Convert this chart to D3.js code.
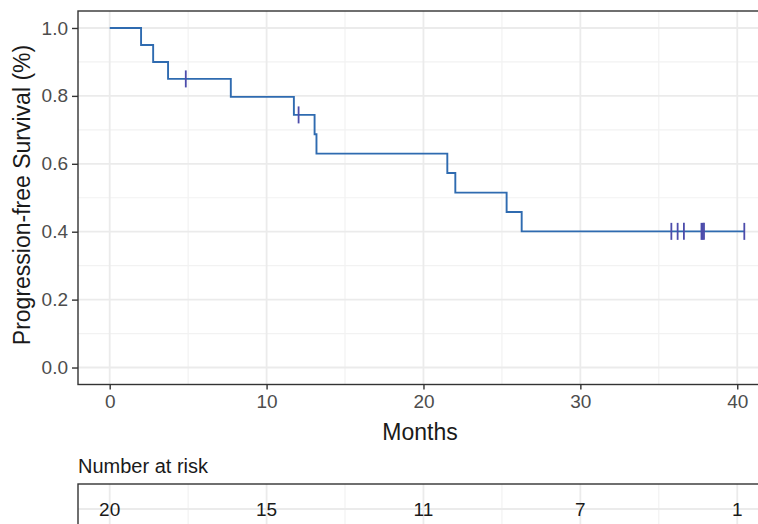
<!DOCTYPE html>
<html lang="en">
<head>
    <meta charset="UTF-8">
    <title>Progression-free Survival</title>
    <script src="https://d3js.org/d3.v7.min.js"></script>
    <style>
        body { margin: 0; background: #fff; }
        text { font-family: "Liberation Sans", Arial, sans-serif; }
    </style>
</head>
<body>
    <div id="km"></div>

    <script>
        // Kaplan-Meier steps
        const stepTimes  = [0, 2.0, 2.77, 3.72, 7.72, 11.74, 13.06, 13.18, 21.52, 22.03, 25.3, 26.26];
        const stepSurv   = [1.0, 0.95, 0.90, 0.85, 0.797, 0.744, 0.687, 0.630, 0.573, 0.515, 0.458, 0.401];
        const censorTimes = [4.85, 12.04, 35.8, 36.2, 36.6, 37.72, 37.8, 37.88, 40.45];
        const lastTime = 40.45;

        const riskTimes  = [0, 10, 20, 30, 40];
        const riskCounts = [20, 15, 11, 7, 1];

        const xTicks = [0, 10, 20, 30, 40];
        const yTicks = [0, 0.2, 0.4, 0.6, 0.8, 1.0];

        const width = 758, height = 524;
        const pLeft = 78, pRight = 776;
        const pTop = 11, pBottom = 384.5;

        const lineColor = "#2f6bb0", censorColor = "#4c4cab";

        const svg = d3.select("#km")
                      .append("svg")
                      .attr("width", width)
                      .attr("height", height);

        const x = d3.scaleLinear().domain([-2.02, 42.47]).range([pLeft, pRight]);
        const y = d3.scaleLinear().domain([-0.05, 1.05]).range([pBottom, pTop]);

        // grid for main panel
        const grid = svg.append("g");
        d3.range(5, 45, 10).forEach(t => {
            grid.append("line").attr("x1", x(t)).attr("x2", x(t)).attr("y1", pTop).attr("y2", pBottom)
                .attr("stroke", "#f2f2f2").attr("stroke-width", 1.2);
        });
        d3.range(0.1, 1.0, 0.2).forEach(v => {
            grid.append("line").attr("x1", pLeft).attr("x2", pRight).attr("y1", y(v)).attr("y2", y(v))
                .attr("stroke", "#f2f2f2").attr("stroke-width", 1.2);
        });
        xTicks.forEach(t => {
            grid.append("line").attr("x1", x(t)).attr("x2", x(t)).attr("y1", pTop).attr("y2", pBottom)
                .attr("stroke", "#ebebeb").attr("stroke-width", 1.8);
        });
        yTicks.forEach(v => {
            grid.append("line").attr("x1", pLeft).attr("x2", pRight).attr("y1", y(v)).attr("y2", y(v))
                .attr("stroke", "#ebebeb").attr("stroke-width", 1.8);
        });

        // survival curve
        const pts = stepTimes.map((t, i) => [t, stepSurv[i]]);
        pts.push([lastTime, stepSurv[stepSurv.length - 1]]);
        const line = d3.line().x(d => x(d[0])).y(d => y(d[1])).curve(d3.curveStepAfter);
        svg.append("path").datum(pts)
           .attr("d", line)
           .attr("fill", "none")
           .attr("stroke", lineColor)
           .attr("stroke-width", 1.9);

        function survAt(t) {
            let s = 1;
            stepTimes.forEach((st, i) => { if (st <= t) s = stepSurv[i]; });
            return s;
        }
        censorTimes.forEach(t => {
            svg.append("line")
               .attr("x1", x(t)).attr("x2", x(t))
               .attr("y1", y(survAt(t)) - 8.5).attr("y2", y(survAt(t)) + 8.5)
               .attr("stroke", censorColor).attr("stroke-width", 1.8);
        });

        // panel border
        svg.append("rect").attr("x", pLeft).attr("y", pTop)
           .attr("width", pRight - pLeft).attr("height", pBottom - pTop)
           .attr("fill", "none").attr("stroke", "#333").attr("stroke-width", 1.4);

        // axes
        const yAxis = svg.append("g").attr("transform", `translate(${pLeft},0)`)
            .call(d3.axisLeft(y).tickValues(yTicks).tickFormat(d3.format(".1f")).tickSize(6).tickPadding(4));
        const xAxis = svg.append("g").attr("transform", `translate(0,${pBottom})`)
            .call(d3.axisBottom(x).tickValues(xTicks).tickSize(5).tickPadding(5));
        [xAxis, yAxis].forEach(a => {
            a.select(".domain").remove();
            a.selectAll(".tick line").attr("stroke", "#333").attr("stroke-width", 1.4);
            a.selectAll(".tick text").attr("fill", "#4d4d4d")
             .attr("font-size", 19)
             .attr("font-family", "'Liberation Sans', Arial, sans-serif");
        });

        svg.append("text")
           .attr("transform", `translate(30,195) rotate(-90)`)
           .attr("text-anchor", "middle")
           .attr("fill", "#1a1a1a")
           .attr("font-size", 23)
           .text("Progression-free Survival (%)");

        svg.append("text")
           .attr("x", 420).attr("y", 439.5)
           .attr("text-anchor", "middle")
           .attr("fill", "#1a1a1a")
           .attr("font-size", 23)
           .text("Months");

        // risk table
        const tTop = 484, tBottom = 545;
        svg.append("text")
           .attr("x", pLeft).attr("y", 473)
           .attr("fill", "#1a1a1a")
           .attr("font-size", 20)
           .text("Number at risk");

        const tg = svg.append("g");
        d3.range(5, 45, 10).forEach(t => {
            tg.append("line").attr("x1", x(t)).attr("x2", x(t)).attr("y1", tTop).attr("y2", tBottom)
              .attr("stroke", "#f2f2f2").attr("stroke-width", 1.2);
        });
        xTicks.forEach(t => {
            tg.append("line").attr("x1", x(t)).attr("x2", x(t)).attr("y1", tTop).attr("y2", tBottom)
              .attr("stroke", "#ebebeb").attr("stroke-width", 1.8);
        });
        tg.append("line").attr("x1", pLeft).attr("x2", pRight).attr("y1", 509).attr("y2", 509)
          .attr("stroke", "#ebebeb").attr("stroke-width", 1.8);
        tg.append("rect").attr("x", pLeft).attr("y", tTop)
          .attr("width", pRight - pLeft).attr("height", tBottom - tTop)
          .attr("fill", "none").attr("stroke", "#333").attr("stroke-width", 1.4);

        riskTimes.forEach((t, i) => {
            tg.append("text")
              .attr("x", x(t)).attr("y", 516)
              .attr("text-anchor", "middle")
              .attr("fill", "#1a1a1a")
              .attr("font-size", 19)
              .text(riskCounts[i]);
        });
    </script>
</body>
</html>
